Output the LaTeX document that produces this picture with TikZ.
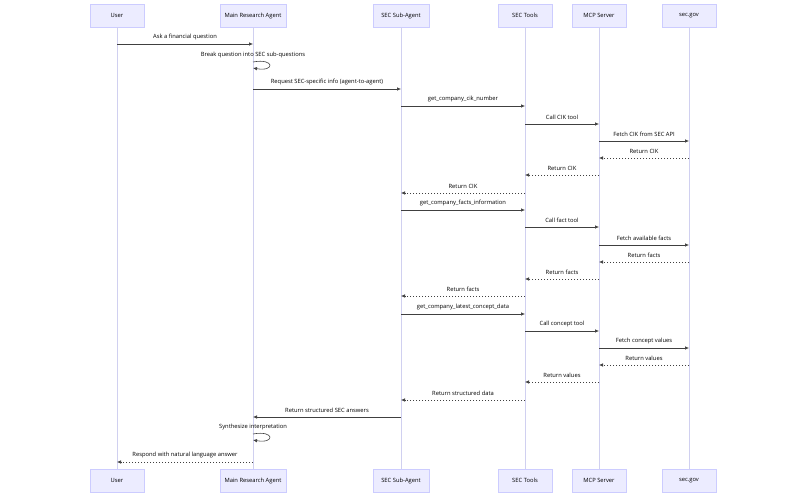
\documentclass[tikz,border=0pt]{standalone}
\usepackage{fontspec}
\setmainfont{Open Sans}
\usetikzlibrary{arrows.meta}
\definecolor{actfill}{HTML}{ECECFF}
\definecolor{actdraw}{HTML}{CCCCFF}
\definecolor{lifec}{HTML}{D0D0F0}
\begin{document}
\begin{tikzpicture}[x=1pt,y=-1pt,
 actor/.style={draw=actdraw,fill=actfill,minimum height=23pt,font=\fontsize{5.8}{6}\selectfont,inner sep=0pt},
 msg/.style={draw=black!75,line width=0.6pt,-{Latex[length=4pt,width=3.5pt]}},
 ret/.style={msg,dash pattern=on 1.5pt off 1.5pt},
 lbl/.style={font=\fontsize{5.8}{6}\selectfont,inner sep=0pt},
 life/.style={draw=lifec,line width=0.6pt}]
\useasboundingbox (0,0) rectangle (806,497);
\foreach \n/\x/\w/\t in {u/117/54/User,m/253/66/Main Research Agent,s/401/56/SEC Sub-Agent,t/525/54/SEC Tools,p/599/54/MCP Server,g/689/54/sec.gov}{
  \node[actor,minimum width=\w pt] (\n T) at (\x,15.5) {\t};
  \node[actor,minimum width=\w pt] (\n B) at (\x,480.5) {\t};
  \draw[life] (\n T.south) -- (\n B.north);
}
\newcommand\mmsg[5]{% style, from, to, y, label
  \coordinate (a) at (#2T |- 0,#4); \coordinate (b) at (#3T |- 0,#4);
  \draw[#1] (a) -- (b) node[lbl,midway,above=4pt] {#5};}
\mmsg{msg}{u}{m}{44}{Ask a financial question}
\node[lbl] at (253,55) {Break question into SEC sub-questions};
\coordinate (l1) at (253,62);\coordinate (l2) at (253,68);
\draw[msg] (l1) .. controls (275,58) and (275,72) .. (l2);
\mmsg{msg}{m}{s}{89}{Request SEC-specific info (agent-to-agent)}
\mmsg{msg}{s}{t}{106}{get\_company\_cik\_number}
\mmsg{msg}{t}{p}{124}{Call CIK tool}
\mmsg{msg}{p}{g}{141}{Fetch CIK from SEC API}
\mmsg{ret}{g}{p}{158}{Return CIK}
\mmsg{ret}{p}{t}{175}{Return CIK}
\mmsg{ret}{t}{s}{193}{Return CIK}
\mmsg{msg}{s}{t}{210}{get\_company\_facts\_information}
\mmsg{msg}{t}{p}{227}{Call fact tool}
\mmsg{msg}{p}{g}{245}{Fetch available facts}
\mmsg{ret}{g}{p}{262}{Return facts}
\mmsg{ret}{p}{t}{279}{Return facts}
\mmsg{ret}{t}{s}{296}{Return facts}
\mmsg{msg}{s}{t}{314}{get\_company\_latest\_concept\_data}
\mmsg{msg}{t}{p}{331}{Call concept tool}
\mmsg{msg}{p}{g}{348}{Fetch concept values}
\mmsg{ret}{g}{p}{365}{Return values}
\mmsg{ret}{p}{t}{382}{Return values}
\mmsg{ret}{t}{s}{400}{Return structured data}
\mmsg{msg}{s}{m}{417}{Return structured SEC answers}
\node[lbl] at (253,427) {Synthesize interpretation};
\coordinate (l3) at (253,434);\coordinate (l4) at (253,440);
\draw[msg] (l3) .. controls (275,430) and (275,444) .. (l4);
\mmsg{ret}{m}{u}{462}{Respond with natural language answer}
\end{tikzpicture}
\end{document}
